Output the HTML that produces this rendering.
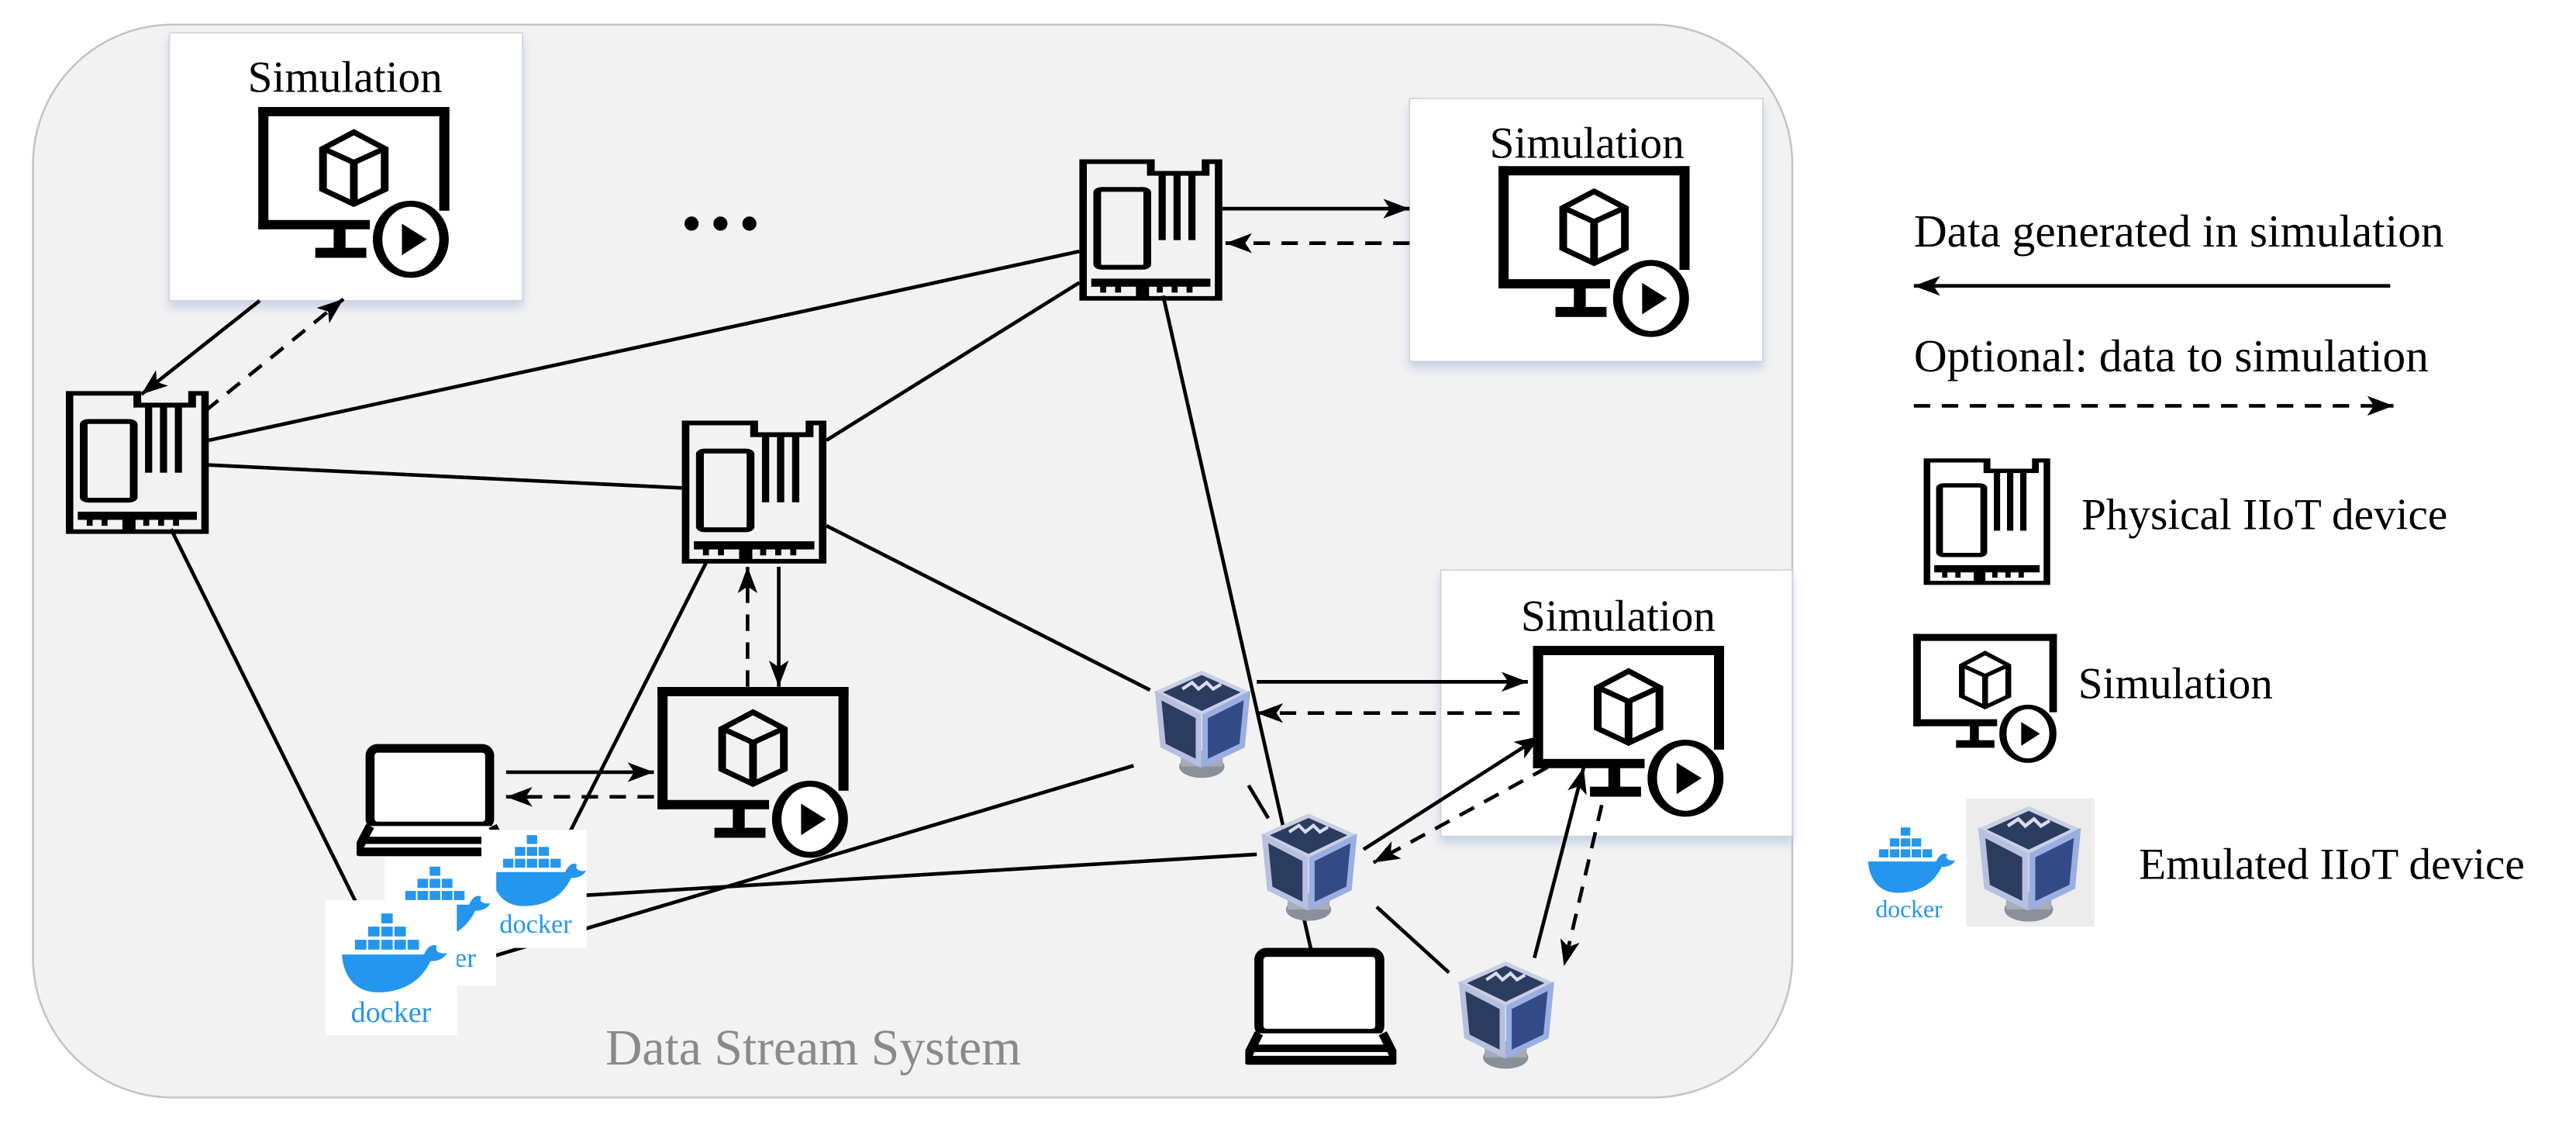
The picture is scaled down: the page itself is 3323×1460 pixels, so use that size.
<!DOCTYPE html>
<html><head><meta charset="utf-8"><style>
html,body{margin:0;padding:0;background:#fff;}
svg{display:block;}
text{font-family:"Liberation Serif",serif;}
</style></head><body>
<svg width="3323" height="1460" viewBox="0 0 1568 689" xmlns="http://www.w3.org/2000/svg">
<defs>
<marker id="ah" markerUnits="userSpaceOnUse" markerWidth="18" markerHeight="14" refX="16" refY="6" orient="auto">
<path d="M0,0 L16,6 L0,12 L4,6 Z" fill="#000"/></marker>
<filter id="sh" x="-10%" y="-10%" width="120%" height="125%"><feDropShadow dx="0" dy="4" stdDeviation="3" flood-color="#9fb3d6" flood-opacity="0.5"/></filter>
<symbol id="mon" viewBox="430 285 335 470" preserveAspectRatio="none">
<rect x="436" y="290" width="322" height="25"/>
<rect x="436" y="290" width="17" height="330"/>
<rect x="436" y="595" width="188" height="25"/>
<rect x="741" y="290" width="17" height="280"/>
<rect x="563" y="618" width="20" height="54"/>
<rect x="532" y="670" width="86" height="27"/>
<ellipse cx="693" cy="647" rx="56" ry="96" fill="#fff" stroke="#000" stroke-width="16"/>
<polygon points="678,605 720,647 678,690"/>
<g fill="none" stroke="#000" stroke-width="13" stroke-linejoin="miter">
<polygon points="597,358 649,402 649,513 597,552 545,513 545,402"/>
<polyline points="545,402 597,440 649,402"/>
<line x1="597" y1="440" x2="597" y2="545"/>
</g>
</symbol>
<symbol id="chip" viewBox="0 0 240 385" preserveAspectRatio="none">
<g fill="none" stroke="#000" stroke-width="13">
<polygon points="6,6 120,6 120,38 212,38 212,6 234,6 234,379 6,379"/>
<rect x="30" y="82" width="84" height="212" rx="8"/>
</g>
<rect x="133" y="38" width="12" height="182"/>
<rect x="158" y="38" width="12" height="182"/>
<rect x="183" y="38" width="12" height="182"/>
<rect x="20" y="325" width="200" height="22"/>
<g>
<rect x="35" y="345" width="10" height="18"/><rect x="60" y="345" width="10" height="18"/>
<rect x="95" y="345" width="22" height="32"/><rect x="130" y="345" width="10" height="18"/>
<rect x="155" y="345" width="10" height="18"/><rect x="180" y="345" width="10" height="18"/>
</g>
</symbol>
<symbol id="lap" viewBox="0 0 100 80" preserveAspectRatio="none">
<rect x="9" y="4" width="80" height="54" rx="5" fill="#fff" stroke="#000" stroke-width="6"/>
<path d="M9,58 L2,72 L2,76 L98,76 L98,72 L91,58" fill="#fff" stroke="#000" stroke-width="6" stroke-linejoin="round"/>
<line x1="2" y1="68" x2="98" y2="68" stroke="#000" stroke-width="5"/>
</symbol>
<symbol id="vb" viewBox="0 0 62 68">
<ellipse cx="30" cy="60" rx="14" ry="7" fill="#8a8f99"/>
<rect x="17" y="50" width="26" height="10" fill="#a6abb5"/>
<polygon points="30,2 57,14 30,27 3,14" fill="#2b3d5e" stroke="#c9cfe4" stroke-width="2.5"/>
<path d="M18,12 l6,-4 l4,4 l5,-4 l4,4 l5,-3" stroke="#d8dcec" stroke-width="2" fill="none"/>
<polygon points="3,16 28,29 28,58 6,47" fill="#2b3d5e" stroke="#b7c0de" stroke-width="3.5"/>
<polygon points="32,29 58,16 55,47 32,58" fill="#324a86" stroke="#9aaee2" stroke-width="3.5"/>
</symbol>
<symbol id="dk" viewBox="0 0 80 82">
<g fill="#2496ed">
<rect x="34" y="8" width="7" height="6"/>
<rect x="26" y="16" width="7" height="6"/><rect x="34" y="16" width="7" height="6"/><rect x="42" y="16" width="7" height="6"/>
<rect x="18" y="24" width="7" height="6"/><rect x="26" y="24" width="7" height="6"/><rect x="34" y="24" width="7" height="6"/><rect x="42" y="24" width="7" height="6"/><rect x="50" y="24" width="7" height="6"/>
<path d="M10,33 L60,33 C62,28 66,26 68,28 C66,31 70,33 74,32 C72,36 68,37 64,37 C58,50 46,56 32,56 C18,56 11,46 10,33 Z"/>
</g>
<text x="40" y="74" text-anchor="middle" font-family="Liberation Sans,sans-serif" font-size="18" fill="#2496ed">docker</text>
</symbol>
</defs>

<rect x="20" y="15" width="1071" height="653" rx="85" fill="#f2f2f2" stroke="#c4c4c4" stroke-width="1.2"/>

<!-- simulation boxes (behind connectors) -->
<rect x="103" y="20" width="215" height="163" fill="#fff" stroke="#d0d4dc" stroke-width="0.8" filter="url(#sh)"/>
<rect x="858" y="60" width="215" height="160" fill="#fff" stroke="#d0d4dc" stroke-width="0.8" filter="url(#sh)"/>
<rect x="877" y="347" width="214" height="162" fill="#fff" stroke="#d0d4dc" stroke-width="0.8" filter="url(#sh)"/>

<!-- lines -->
<g stroke="#000" stroke-width="2.2" fill="none">
<line x1="127" y1="268" x2="657" y2="153"/>
<line x1="127" y1="283" x2="415" y2="297"/>
<line x1="104" y1="322" x2="218" y2="552"/>
<line x1="503" y1="268" x2="657" y2="172"/>
<line x1="503" y1="320" x2="700" y2="420"/>
<line x1="708" y1="180" x2="798" y2="578"/>
<line x1="430" y1="342" x2="345" y2="510"/>
<line x1="280" y1="588" x2="690" y2="466"/>
<line x1="355" y1="545" x2="765" y2="520"/>
<line x1="760" y1="478" x2="772" y2="498"/>
<line x1="838" y1="552" x2="882" y2="592"/>
</g>
<!-- arrows -->
<g stroke="#000" stroke-width="2.2" fill="none">
<line x1="158" y1="183" x2="86" y2="240" marker-end="url(#ah)"/>
<line x1="125" y1="250" x2="209" y2="182" stroke-dasharray="10,7" marker-end="url(#ah)"/>
<line x1="744" y1="127" x2="858" y2="127" marker-end="url(#ah)"/>
<line x1="858" y1="148" x2="746" y2="148" stroke-dasharray="10,7" marker-end="url(#ah)"/>
<line x1="455" y1="418" x2="455" y2="345" stroke-dasharray="10,7" marker-end="url(#ah)"/>
<line x1="474" y1="345" x2="474" y2="418" marker-end="url(#ah)"/>
<line x1="308" y1="470" x2="398" y2="470" marker-end="url(#ah)"/>
<line x1="398" y1="485" x2="308" y2="485" stroke-dasharray="10,7" marker-end="url(#ah)"/>
<line x1="765" y1="415" x2="930" y2="415" marker-end="url(#ah)"/>
<line x1="925" y1="434" x2="765" y2="434" stroke-dasharray="10,7" marker-end="url(#ah)"/>
<line x1="830" y1="517" x2="938" y2="448" marker-end="url(#ah)"/>
<line x1="942" y1="467" x2="836" y2="525" stroke-dasharray="10,7" marker-end="url(#ah)"/>
<line x1="934" y1="583" x2="964" y2="467" marker-end="url(#ah)"/>
<line x1="975" y1="490" x2="952" y2="588" stroke-dasharray="10,7" marker-end="url(#ah)"/>
</g>

<text x="210" y="56" text-anchor="middle" font-size="27">Simulation</text>
<use href="#mon" x="155" y="64" width="121" height="106"/>
<text x="966" y="96" text-anchor="middle" font-size="27">Simulation</text>
<use href="#mon" x="910" y="100" width="121" height="106"/>
<text x="985" y="384" text-anchor="middle" font-size="27">Simulation</text>
<use href="#mon" x="931" y="392" width="121" height="106"/>

<use href="#mon" x="398" y="417" width="121" height="106"/>

<text x="441" y="148" text-anchor="middle" font-size="36" letter-spacing="5">•••</text>

<!-- devices -->
<use href="#chip" x="40" y="238" width="87" height="87"/>
<use href="#chip" x="415" y="256" width="88" height="87"/>
<use href="#chip" x="657" y="97" width="87" height="86"/>

<use href="#lap" x="217" y="452" width="91" height="70"/>
<use href="#lap" x="758" y="576" width="92" height="73"/>

<use href="#vb" x="702" y="407" width="61" height="68"/>
<use href="#vb" x="767" y="494" width="61" height="68"/>
<use href="#vb" x="887" y="584" width="61" height="68"/>

<rect x="293" y="505" width="64" height="72" fill="#fff"/>
<use href="#dk" x="290" y="500" width="72" height="76"/>
<rect x="234" y="522" width="68" height="78" fill="#fff"/>
<use href="#dk" x="230" y="518" width="74" height="80"/>
<rect x="198" y="548" width="80" height="82" fill="#fff"/>
<use href="#dk" x="198" y="548" width="80" height="82"/>

<text x="495" y="648" text-anchor="middle" font-size="31" fill="#8a8a8a">Data Stream System</text>

<!-- legend -->
<text x="1165" y="150" font-size="28">Data generated in simulation</text>
<line x1="1455" y1="174" x2="1165" y2="174" stroke="#000" stroke-width="2.2" marker-end="url(#ah)"/>
<text x="1165" y="226" font-size="28">Optional: data to simulation</text>
<line x1="1165" y1="247" x2="1457" y2="247" stroke="#000" stroke-width="2.2" stroke-dasharray="10,7" marker-end="url(#ah)"/>
<use href="#chip" x="1171" y="279" width="77" height="77"/>
<text x="1267" y="322" font-size="27">Physical IIoT device</text>
<use href="#mon" x="1163" y="385" width="91" height="80"/>
<text x="1265" y="425" font-size="27">Simulation</text>
<use href="#dk" x="1126" y="497" width="72" height="68"/>
<rect x="1197" y="486" width="78" height="78" fill="#ececec"/>
<use href="#vb" x="1203" y="490" width="66" height="72"/>
<text x="1302" y="535" font-size="27">Emulated IIoT device</text>
</svg>
</body></html>
